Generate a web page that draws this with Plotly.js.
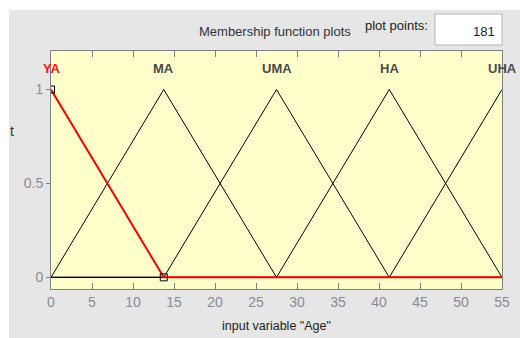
<!DOCTYPE html>
<html><head><meta charset="utf-8">
<script src="https://cdn.plot.ly/plotly-3.0.1.min.js"></script>
<style>html,body{margin:0;padding:0;background:#fff;}#chart{width:520px;height:338px;}</style>
</head><body><div id="chart"></div>
<script>
// Membership functions of input variable "Age" (triangular)
var mfNames = ["YA", "MA", "UMA", "HA", "UHA"];
var xYA  = [0, 13.75, 55];            var yYA  = [1, 0, 0];
var xMA  = [0, 13.75, 27.5, 55];      var yMA  = [0, 1, 0, 0];
var xUMA = [0, 13.75, 27.5, 41.25, 55]; var yUMA = [0, 0, 1, 0, 0];
var xHA  = [0, 27.5, 41.25, 55];      var yHA  = [0, 0, 1, 0];
var xUHA = [0, 41.25, 55];            var yUHA = [0, 0, 1];
var labelX = [0, 13.75, 27.5, 41.25, 55];
var markX = [0, 13.75]; var markY = [1, 0];
var xTicks = [0, 5, 10, 15, 20, 25, 30, 35, 40, 45, 50, 55];
var yTicks = [0, 0.5, 1];
var yTickText = ["0", "0.5", "1"];
var plotPoints = "181";

var FONT = "Liberation Sans, Arial, sans-serif";
var L = 51, R = 502, T = 51, B = 289;
function px(x){ return (x - L) / (R - L); }
function py(y){ return (B - y) / (B - T); }

function blk(x, y){ return {x:x, y:y, type:'scatter', mode:'lines', line:{color:'#000', width:1}, hoverinfo:'skip', showlegend:false}; }
var traces = [
  blk(xMA, yMA), blk(xUMA, yUMA), blk(xHA, yHA), blk(xUHA, yUHA),
  {x:xYA, y:yYA, type:'scatter', mode:'lines', line:{color:'#ff0000', width:2}, hoverinfo:'skip', showlegend:false},
  {x:markX, y:markY, type:'scatter', mode:'markers', marker:{symbol:'square-open', size:7, color:'#000', line:{width:1}}, cliponaxis:true, hoverinfo:'skip', showlegend:false}
];

var annotations = mfNames.map(function(n, i){
  return {x:labelX[i], y:1.113, xref:'x', yref:'y', text:'<b>' + n + '</b>', showarrow:false,
    font:{family:FONT, size:13, color: i === 0 ? '#ff1010' : '#4a4a4a'}, xanchor:'center', yanchor:'middle'};
});
annotations.push(
  {x:px(275), y:py(31), xref:'paper', yref:'paper', text:'Membership function plots', showarrow:false, font:{family:FONT, size:13, color:'#333'}, xanchor:'center', yanchor:'middle'},
  {x:px(396), y:py(26), xref:'paper', yref:'paper', text:'plot points:', showarrow:false, font:{family:FONT, size:13, color:'#222'}, xanchor:'center', yanchor:'middle'},
  {x:px(497), y:py(31), xref:'paper', yref:'paper', text:plotPoints, showarrow:false, font:{family:FONT, size:13, color:'#1a1a40'}, xanchor:'right', yanchor:'middle'},
  {x:px(276), y:py(326), xref:'paper', yref:'paper', text:'input variable "Age"', showarrow:false, font:{family:FONT, size:12.5, color:'#222'}, xanchor:'center', yanchor:'middle'},
  {x:px(12), y:py(131), xref:'paper', yref:'paper', text:'t', showarrow:false, font:{family:FONT, size:14, color:'#333'}, xanchor:'center', yanchor:'middle'}
);

var shapes = [
  {type:'rect', xref:'paper', yref:'paper', x0:px(0), x1:px(520), y0:py(10), y1:py(0), fillcolor:'#fff', line:{width:0}, layer:'below'},
  {type:'rect', xref:'paper', yref:'paper', x0:px(0), x1:px(9), y0:py(338), y1:py(0), fillcolor:'#fff', line:{width:0}, layer:'below'},
  {type:'rect', xref:'paper', yref:'paper', x0:px(435), x1:px(502), y0:py(45), y1:py(14), fillcolor:'#fff', line:{width:1, color:'#b4b4b4'}, layer:'below'}
];

var layout = {
  width:520, height:338,
  margin:{l:L, r:520-R, t:T, b:338-B, pad:0},
  paper_bgcolor:'#e6e6e6', plot_bgcolor:'#ffffcc',
  xaxis:{range:[0,55], tickvals:xTicks, ticks:'inside', ticklen:6, tickcolor:'#808080', mirror:'ticks',
    showline:true, linecolor:'#808080', linewidth:1, showgrid:false, zeroline:false,
    tickfont:{family:FONT, size:14, color:'#8a8a95'}},
  yaxis:{range:[-0.062,1.205], tickvals:yTicks, ticktext:yTickText, ticks:'outside', ticklen:4, tickcolor:'#808080',
    showline:true, linecolor:'#808080', linewidth:1, showgrid:false, zeroline:false, mirror:true,
    tickfont:{family:FONT, size:14, color:'#8a8a95'}},
  annotations:annotations, shapes:shapes, showlegend:false
};
Plotly.newPlot('chart', traces, layout, {staticPlot:true, displayModeBar:false});
</script></body></html>
